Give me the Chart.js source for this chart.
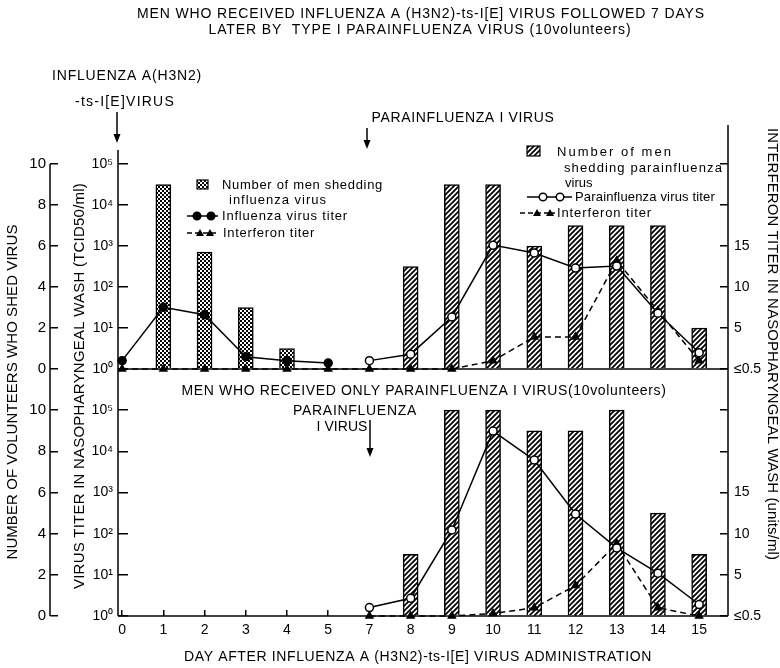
<!DOCTYPE html>
<html>
<head>
<meta charset="utf-8">
<script src="https://cdn.jsdelivr.net/npm/chart.js@4.4.1/dist/chart.umd.min.js"></script>
<style>
  html, body { margin: 0; padding: 0; background: #fff; }
  #wrap { position: relative; width: 780px; height: 668px; }
  #wrap canvas { position: absolute; left: 0; top: 0; }
</style>
</head>
<body>
<div id="wrap">
  <canvas id="topChart" width="780" height="668"></canvas>
  <canvas id="bottomChart" width="780" height="668"></canvas>
</div>
<script>
// day labels (day 6 is not on the axis)
const days = ['0', '1', '2', '3', '4', '5', '7', '8', '9', '10', '11', '12', '13', '14', '15'];

// top panel: influenza followed 7 days later by parainfluenza
const fluShedTop   = [null, 9, 5.7, 3, 1, null, null, null, null, null, null, null, null, null, null];
const paraShedTop  = [null, null, null, null, null, null, null, 5, 9, 9, 6, 7, 7, 7, 2];
const fluTiterTop  = [1.6, 32, 21, 2, 1.6, 1.4, null, null, null, null, null, null, null, null, null];
const paraTiterTop = [null, null, null, null, null, null, 1.6, 2.3, 18.6, 1050, 676, 290, 324, 23, 2.5];
const ifnTop       = [0, 0, 0, 0, 0, 0, 0, 0, 0, 1, 3.9, 3.9, 13.2, 7.1, 1];

// bottom panel: parainfluenza only
const paraShedBot  = [null, null, null, null, null, null, null, 3, 10, 10, 9, 9, 10, 5, 3];
const paraTiterBot = [null, null, null, null, null, null, 1.6, 2.7, 123, 31000, 6150, 300, 45, 11, 1.9];
const ifnBot       = [null, null, null, null, null, null, 0, 0, 0, 0.3, 1, 3.7, 8.8, 1, 0];

const countTicks = [0, 2, 4, 6, 8, 10];
const titerTicks = [1, 10, 100, 1000, 10000, 100000];
const ifnTicks = [0, 5, 10, 15, 20, 25];
const sup = ['⁰', '¹', '²', '³', '⁴', '⁵'];

const FONT = '"Liberation Sans", Arial, sans-serif';
Chart.defaults.font.family = FONT;
Chart.defaults.color = '#000';

function points(arr) {
    let out = [];
    arr.forEach(function(v, i) {
        if (v !== null) out.push({x: i, y: v});
    });
    return out;
}

function makePattern(kind) {
    const c = document.createElement('canvas');
    const g = c.getContext('2d');
    if (kind === 'checker') {
        c.width = 4; c.height = 4;
        g.fillStyle = '#fff'; g.fillRect(0, 0, 4, 4);
        g.fillStyle = '#000';
        g.fillRect(0, 0, 2, 2);
        g.fillRect(2, 2, 2, 2);
    } else {
        c.width = 5; c.height = 5;
        g.fillStyle = '#fff'; g.fillRect(0, 0, 5, 5);
        g.strokeStyle = '#000'; g.lineWidth = 1.8;
        g.beginPath();
        g.moveTo(-1, 6); g.lineTo(6, -1);
        g.moveTo(-1, 1); g.lineTo(1, -1);
        g.moveTo(4, 6); g.lineTo(6, 4);
        g.stroke();
    }
    return g.createPattern(c, 'repeat');
}

const checker = makePattern('checker');
const hatch = makePattern('hatch');

function scales(showX) {
    const grid = function(len) {
        return { drawOnChartArea: false, tickLength: len, color: '#000', lineWidth: 1.5 };
    };
    return {
        x: {
            type: 'linear', display: showX, offset: false, min: -0.1, max: 14.7,
            afterBuildTicks: function(s) { s.ticks = days.map(function(d, i) { return {value: i}; }); },
            afterFit: function(s) { if (showX) s.height = 52; },
            ticks: { autoSkip: false, maxRotation: 0, padding: 12, font: {size: 14},
                     callback: function(v) { return days[v]; } },
            grid: Object.assign(grid(-6), { offset: false }),
            border: { display: false }
        },
        count: {
            type: 'linear', position: 'left', weight: 1, min: 0, max: 12,
            afterBuildTicks: function(s) { s.ticks = countTicks.map(function(v) { return {value: v}; }); },
            afterFit: function(s) { s.width = 50; },
            ticks: { autoSkip: false, padding: 12, font: {size: 15} },
            grid: grid(-8),
            border: { display: false }
        },
        titer: {
            type: 'logarithmic', position: 'left', weight: 0, min: 1, max: 1000000,
            afterBuildTicks: function(s) { s.ticks = titerTicks.map(function(v) { return {value: v}; }); },
            afterFit: function(s) { s.width = 68; },
            ticks: { autoSkip: false, padding: 15, font: {size: 14},
                     callback: function(v) { return '10' + sup[Math.round(Math.log10(v))]; } },
            grid: grid(-10),
            border: { display: false }
        },
        ifn: {
            type: 'linear', position: 'right', min: 0, max: 30,
            afterBuildTicks: function(s) { s.ticks = ifnTicks.map(function(v) { return {value: v}; }); },
            afterFit: function(s) { s.width = 52; },
            ticks: { autoSkip: false, padding: 14, font: {size: 14},
                     callback: function(v) { return v === 0 ? '≤0.5' : (v <= 15 ? String(v) : ''); } },
            grid: grid(-8),
            border: { display: false }
        }
    };
}

function barSet(data, fill) {
    return {
        type: 'bar', data: points(data), xAxisID: 'x', yAxisID: 'count',
        backgroundColor: fill, borderColor: '#000', borderWidth: 1.5,
        barThickness: 15, grouped: false, order: 2
    };
}

function lineSet(data, axis, marker, dashed) {
    return {
        type: 'line', data: points(data), xAxisID: 'x', yAxisID: axis,
        borderColor: '#000', borderWidth: 1.5, borderDash: dashed ? [6, 4] : [],
        pointStyle: marker === 'tri' ? 'triangle' : 'circle',
        pointRadius: 4,
        pointBackgroundColor: marker === 'open' ? '#fff' : '#000',
        pointBorderColor: '#000', pointBorderWidth: 1.5,
        tension: 0, fill: false, clip: false, order: 0
    };
}

// ---- drawing helpers for frame and notes ----
function seg(ctx, x1, y1, x2, y2) {
    ctx.beginPath(); ctx.moveTo(x1, y1); ctx.lineTo(x2, y2); ctx.stroke();
}

function text(ctx, str, x, y, w, size, rot, align) {
    ctx.save();
    ctx.translate(x, y);
    if (rot) ctx.rotate(rot);
    ctx.font = size + 'px ' + FONT;
    ctx.fillStyle = '#000';
    ctx.letterSpacing = '0px';
    if (w) {
        const m = ctx.measureText(str).width;
        ctx.letterSpacing = Math.max(-0.6, (w - m) / str.length) + 'px';
    }
    ctx.textAlign = align || 'center';
    ctx.textBaseline = 'middle';
    ctx.fillText(str, 0, 0);
    ctx.restore();
}

function arrow(ctx, x, y1, y2) {
    ctx.save();
    ctx.strokeStyle = '#000'; ctx.fillStyle = '#000'; ctx.lineWidth = 1.5;
    seg(ctx, x, y1, x, y2 - 6);
    ctx.beginPath();
    ctx.moveTo(x - 3.5, y2 - 9); ctx.lineTo(x + 3.5, y2 - 9); ctx.lineTo(x, y2);
    ctx.closePath(); ctx.fill();
    ctx.restore();
}

function marker(ctx, kind, x, y) {
    ctx.beginPath();
    if (kind === 'tri') {
        ctx.moveTo(x, y - 4); ctx.lineTo(x + 4, y + 3); ctx.lineTo(x - 4, y + 3); ctx.closePath();
        ctx.fillStyle = '#000'; ctx.fill();
    } else {
        ctx.arc(x, y, 3.8, 0, Math.PI * 2);
        ctx.fillStyle = kind === 'open' ? '#fff' : '#000';
        ctx.fill(); ctx.stroke();
    }
}

function sample(ctx, x1, x2, y, dashed, kind, mx) {
    ctx.save();
    ctx.strokeStyle = '#000'; ctx.lineWidth = 1.5;
    ctx.setLineDash(dashed ? [5, 3] : []);
    seg(ctx, x1, y, x2, y);
    ctx.setLineDash([]);
    mx.forEach(function(m) { marker(ctx, kind, m, y); });
    ctx.restore();
}

function swatch(ctx, x, y, w, h, fill) {
    ctx.save();
    ctx.fillStyle = fill; ctx.fillRect(x, y, w, h);
    ctx.strokeStyle = '#000'; ctx.lineWidth = 1.2; ctx.strokeRect(x, y, w, h);
    ctx.restore();
}

const frameTop = {
    id: 'frameTop',
    beforeDatasetsDraw(chart) {
        const ctx = chart.ctx, a = chart.chartArea, s = chart.scales;
        ctx.save();
        ctx.strokeStyle = '#000'; ctx.lineWidth = 1.5;
        seg(ctx, s.count.right, s.count.getPixelForValue(10), s.count.right, a.bottom);
        seg(ctx, a.left, 150, a.left, a.bottom);
        seg(ctx, a.right, 125, a.right, a.bottom);
        seg(ctx, a.left, a.bottom, a.right, a.bottom);
        ctx.restore();
    }
};

const notesTop = {
    id: 'notesTop',
    afterDraw(chart) {
        const ctx = chart.ctx;
        text(ctx, 'MEN WHO RECEIVED INFLUENZA A (H3N2)-ts-I[E] VIRUS FOLLOWED 7 DAYS', 421, 14, 568, 14);
        text(ctx, 'LATER BY  TYPE I PARAINFLUENZA VIRUS (10volunteers)', 420, 30, 423, 14);
        text(ctx, 'INFLUENZA A(H3N2)', 127, 76, 150, 14);
        text(ctx, '-ts-I[E]VIRUS', 125, 102, 100, 14);
        arrow(ctx, 117, 112, 143);
        text(ctx, 'PARAINFLUENZA I VIRUS', 463, 118, 183, 14);
        arrow(ctx, 367, 128, 149);

        // influenza legend
        swatch(ctx, 197, 180, 11, 9, checker);
        text(ctx, 'Number of men shedding', 222, 185, 161, 13, 0, 'left');
        text(ctx, 'influenza virus', 229, 200, 98, 13, 0, 'left');
        sample(ctx, 187, 218, 216, false, 'filled', [197, 211]);
        text(ctx, 'Influenza virus titer', 222, 216, 126, 13, 0, 'left');
        sample(ctx, 187, 218, 233, true, 'tri', [200, 210]);
        text(ctx, 'Interferon titer', 223, 233, 92, 13, 0, 'left');

        // parainfluenza legend
        swatch(ctx, 527, 146, 13, 10, hatch);
        text(ctx, 'Number of men', 557, 152, 116, 13, 0, 'left');
        text(ctx, 'shedding parainfluenza', 564, 168, 159, 13, 0, 'left');
        text(ctx, 'virus', 565, 183, null, 13, 0, 'left');
        sample(ctx, 527, 572, 197, false, 'open', [543, 560]);
        text(ctx, 'Parainfluenza virus titer', 575, 197, 140, 13, 0, 'left');
        sample(ctx, 520, 555, 213, true, 'tri', [537, 550]);
        text(ctx, 'Interferon titer', 557, 213, 95, 13, 0, 'left');
    }
};

const frameBot = {
    id: 'frameBot',
    beforeDatasetsDraw(chart) {
        const ctx = chart.ctx, a = chart.chartArea, s = chart.scales;
        ctx.save();
        ctx.strokeStyle = '#000'; ctx.lineWidth = 1.5;
        seg(ctx, s.count.right, a.top, s.count.right, a.bottom);
        seg(ctx, a.left, a.top, a.left, a.bottom);
        seg(ctx, a.right, a.top, a.right, a.bottom);
        seg(ctx, a.left, a.bottom, a.right, a.bottom);
        ctx.restore();
    }
};

const notesBot = {
    id: 'notesBot',
    afterDraw(chart) {
        const ctx = chart.ctx;
        text(ctx, 'MEN WHO RECEIVED ONLY PARAINFLUENZA I VIRUS(10volunteers)', 424, 391, 485, 14);
        text(ctx, 'PARAINFLUENZA', 355, 411, 124, 14);
        text(ctx, 'I VIRUS', 342, 427, 51, 14);
        arrow(ctx, 370, 420, 457);
        text(ctx, 'DAY AFTER INFLUENZA A (H3N2)-ts-I[E] VIRUS ADMINISTRATION', 418, 657, 468, 14);
        text(ctx, 'NUMBER OF VOLUNTEERS WHO SHED VIRUS', 13, 392, 335, 15, -Math.PI / 2);
        text(ctx, 'VIRUS TITER IN NASOPHARYNGEAL WASH (TCID50/ml)', 80, 386, 406, 15, -Math.PI / 2);
        text(ctx, 'INTERFERON TITER IN NASOPHARYNGEAL WASH (units/ml)', 772, 344, 432, 15, Math.PI / 2);
    }
};

function makeChart(id, datasets, showX, pad, extra) {
    return new Chart(document.getElementById(id), {
        type: 'bar',
        data: { datasets: datasets },
        options: {
            responsive: false,
            animation: false,
            layout: { padding: pad },
            plugins: { legend: { display: false }, tooltip: { enabled: false } },
            scales: scales(showX)
        },
        plugins: extra
    });
}

makeChart('topChart', [
    lineSet(fluTiterTop, 'titer', 'filled', false),
    lineSet(paraTiterTop, 'titer', 'open', false),
    lineSet(ifnTop, 'ifn', 'tri', true),
    barSet(fluShedTop, checker),
    barSet(paraShedTop, hatch)
], false, { top: 123, bottom: 299, left: 0, right: 0 }, [frameTop, notesTop]);

makeChart('bottomChart', [
    lineSet(paraTiterBot, 'titer', 'open', false),
    lineSet(ifnBot, 'ifn', 'tri', true),
    barSet(paraShedBot, hatch)
], true, { top: 369, bottom: 0, left: 0, right: 0 }, [frameBot, notesBot]);
</script>
</body>
</html>
